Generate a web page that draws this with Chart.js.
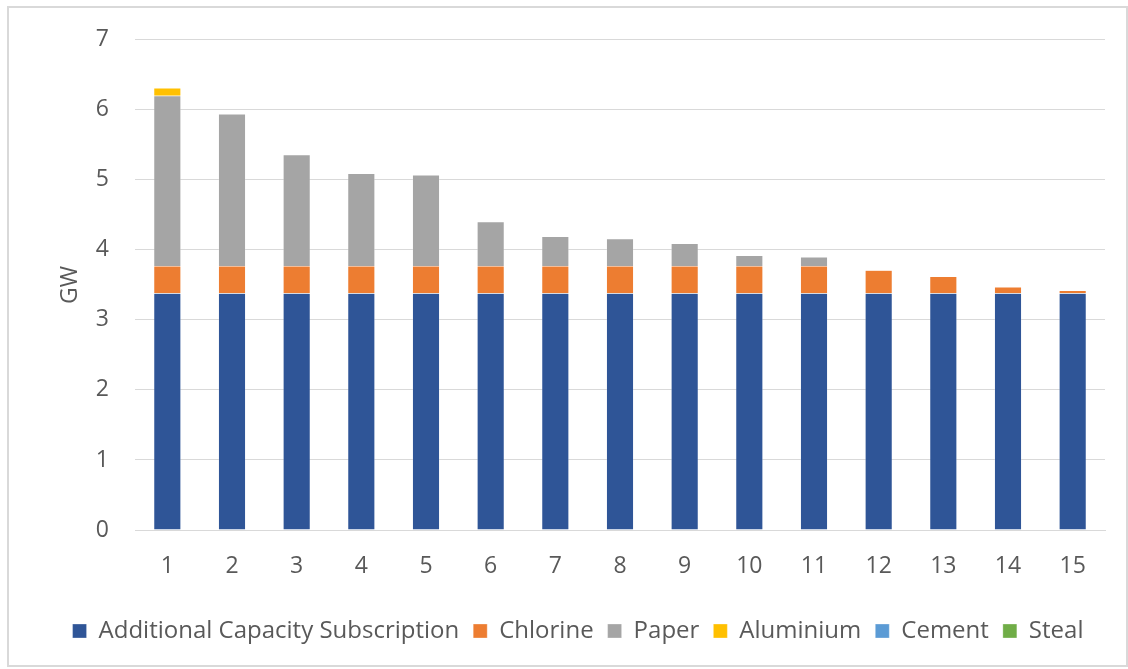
<!DOCTYPE html>
<html>
<head>
<meta charset="utf-8">
<script src="https://cdn.jsdelivr.net/npm/chart.js@4"></script>
<style>
  html, body { margin: 0; padding: 0; background: #ffffff; }
  #wrap { position: relative; width: 1128px; height: 669px; overflow: hidden; }
  #frame { position: absolute; left: 7px; top: 6px; width: 1121px; height: 661px;
           border: 2px solid #d9d9d9; box-sizing: border-box; pointer-events: none; }
  canvas { position: absolute; left: 0; top: 0; }
</style>
</head>
<body>
<div id="wrap">
  <canvas id="c" width="1128" height="669"></canvas>
  <div id="frame"></div>
</div>
<script>
// Categories (scenario rank) and stacked capacity by sector, in GW
const categories = ["1","2","3","4","5","6","7","8","9","10","11","12","13","14","15"];
const additionalCapacity = [3.38,3.38,3.38,3.38,3.38,3.38,3.38,3.38,3.38,3.38,3.38,3.38,3.38,3.38,3.38];
const chlorine   = [0.39,0.39,0.39,0.39,0.39,0.39,0.39,0.39,0.39,0.39,0.39,0.33,0.24,0.09,0.04];
const paper      = [2.43,2.17,1.59,1.32,1.30,0.63,0.42,0.39,0.32,0.15,0.13,0,0,0,0];
const aluminium  = [0.11,0,0,0,0,0,0,0,0,0,0,0,0,0,0];
const cement     = [0,0,0,0,0,0,0,0,0,0,0,0,0,0,0];
const steal      = [0,0,0,0,0,0,0,0,0,0,0,0,0,0,0];
const yTicks     = [0,1,2,3,4,5,6,7];

const FONT = "'Open Sans', 'Noto Sans', sans-serif";
const TEXT = "#595959";
const GRID = "#d9d9d9";

function ds(label, data, color) {
  return { label, data, backgroundColor: color, borderColor: "rgba(255,255,255,0.6)", borderWidth: 0.5,
           barPercentage: 0.42, categoryPercentage: 1.0 };
}

new Chart(document.getElementById("c"), {
  type: "bar",
  data: {
    labels: categories,
    datasets: [
      ds("Additional Capacity Subscription", additionalCapacity, "#2F5597"),
      ds("Chlorine", chlorine, "#ED7D31"),
      ds("Paper", paper, "#A5A5A5"),
      ds("Aluminium", aluminium, "#FFC000"),
      ds("Cement", cement, "#5B9BD5"),
      ds("Steal", steal, "#70AD47")
    ]
  },
  options: {
    responsive: false,
    animation: false,
    devicePixelRatio: 1,
    layout: { padding: { top: 35, right: 23, bottom: 16, left: 51 } },
    plugins: {
      tooltip: { enabled: false },
      legend: {
        position: "bottom",
        labels: {
          font: { family: FONT, size: 24 },
          color: TEXT,
          boxWidth: 14,
          boxHeight: 14,
          padding: 14
        }
      }
    },
    scales: {
      x: {
        stacked: true,
        grid: { display: false, drawTicks: false },
        border: { display: true, color: GRID, width: 1 },
        ticks: { font: { family: FONT, size: 23 }, color: TEXT, padding: 23 },
        afterFit: (s) => { s.height = 75; }
      },
      y: {
        stacked: true,
        min: 0, max: 7,
        afterBuildTicks: (s) => { s.ticks = yTicks.map(v => ({ value: v })); },
        grid: { color: GRID, lineWidth: 1, drawTicks: false },
        border: { display: false },
        ticks: { font: { family: FONT, size: 23 }, color: TEXT, padding: 26 },
        title: { display: true, text: "GW", font: { family: FONT, size: 23 }, color: TEXT, padding: { top: 6, bottom: 0 } },
        afterFit: (s) => { s.width = 84; }
      }
    }
  }
});
</script>
</body>
</html>
